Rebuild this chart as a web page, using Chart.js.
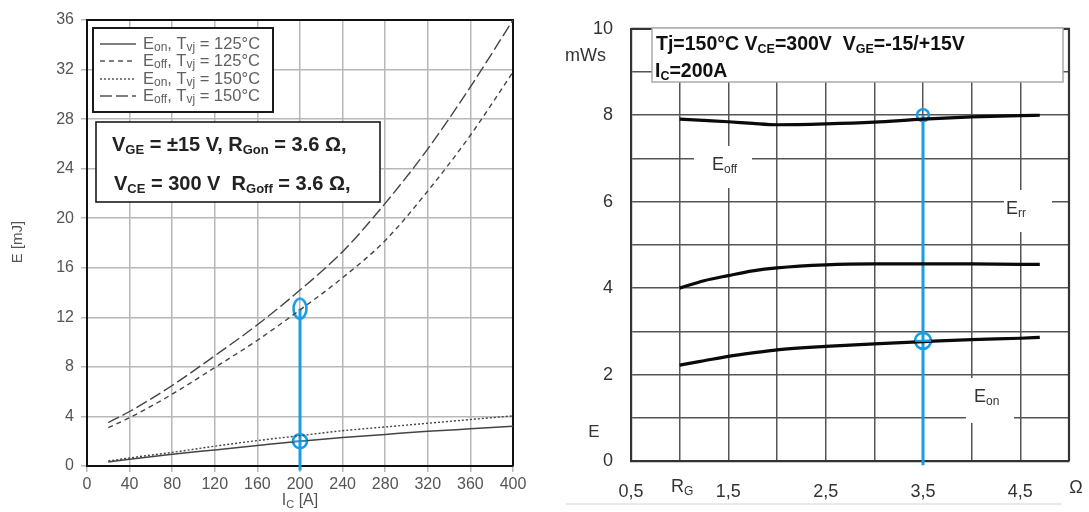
<!DOCTYPE html>
<html><head><meta charset="utf-8">
<script src="https://cdn.jsdelivr.net/npm/chart.js@4.4.0/dist/chart.umd.min.js"></script>
<style>
html,body{margin:0;padding:0;background:#fff;width:1089px;height:512px;overflow:hidden}
#c1{position:absolute;left:0;top:0}
#c2{position:absolute;left:540px;top:0}
</style></head><body>
<canvas id="c1" width="540" height="512"></canvas>
<canvas id="c2" width="549" height="512"></canvas>
<script>
// ---------- Left chart data: E vs I_C ----------
const IC        = [20, 40, 80, 120, 160, 200, 240, 280, 320, 360, 400];
const EON_125   = [0.33, 0.55, 0.95, 1.3, 1.65, 2.0, 2.3, 2.55, 2.8, 3.0, 3.2];
const EOFF_125  = [3.1, 3.9, 5.8, 7.95, 10.15, 12.6, 15.2, 18.2, 22.2, 26.7, 31.8];
const EON_150   = [0.4, 0.65, 1.1, 1.6, 2.05, 2.45, 2.85, 3.15, 3.45, 3.75, 4.05];
const EOFF_150  = [3.5, 4.4, 6.5, 8.9, 11.4, 14.2, 17.3, 21.2, 25.6, 30.6, 36.0];
const IC_TICKS  = [0, 400, 40];   // min, max, step
const EL_TICKS  = [0, 36, 4];
const MARK_L_X  = 200;
const MARK_L_Y  = [12.7, 2.0];
const LEG_L     = ['125°C', '125°C', '150°C', '150°C'];

// ---------- Right chart data: E vs R_G ----------
const RG        = [1.0, 1.25, 1.5, 1.75, 2.0, 2.5, 3.0, 3.5, 4.0, 4.5, 4.7];
const R_EOFF    = [7.91, 7.88, 7.85, 7.81, 7.78, 7.8, 7.84, 7.91, 7.96, 7.99, 8.0];
const R_ERR     = [4.0, 4.17, 4.29, 4.4, 4.47, 4.54, 4.56, 4.56, 4.56, 4.55, 4.55];
const R_EON     = [2.22, 2.32, 2.42, 2.5, 2.57, 2.65, 2.71, 2.76, 2.81, 2.84, 2.86];
const RG_TICKS  = [0.5, 5.0, 0.5];
const ER_TICKS  = [0, 10, 1];
const MARK_R_X  = 3.5;
const MARK_R_Y  = [8.0, 2.78];

const FF = '"Liberation Sans", Arial, Helvetica, sans-serif';
const BLUE = '#1a9de2';

function rich(ctx, parts, x, y, size, subSize, color, weight, align){
  ctx.save();
  ctx.fillStyle = color; ctx.textBaseline = 'middle'; ctx.textAlign = 'left';
  const f = s => `${weight} ${s}px ${FF}`;
  let w = 0;
  parts.forEach(p => { ctx.font = f(p[1] ? subSize : size); w += ctx.measureText(p[0]).width; });
  let cx = align === 'center' ? x - w/2 : (align === 'right' ? x - w : x);
  parts.forEach(p => {
    ctx.font = f(p[1] ? subSize : size);
    ctx.fillText(p[0], cx, p[1] ? y + size*0.25 : y);
    cx += ctx.measureText(p[0]).width;
  });
  ctx.restore();
  return w;
}
const pts = (xs, ys) => xs.map((x, i) => ({x, y: ys[i]}));

// ellipse marker image
const ell = document.createElement('canvas');
ell.width = 18; ell.height = 26;
(() => { const c = ell.getContext('2d'); c.strokeStyle = BLUE; c.lineWidth = 2.6;
  c.beginPath(); c.ellipse(9, 13, 6.5, 10, 0, 0, Math.PI*2); c.stroke(); })();

// ---------------- LEFT CHART ----------------
const leftPlugin = {
  id: 'leftDeco',
  beforeDatasetsDraw(chart){
    const {ctx, chartArea: a} = chart;
    ctx.save();
    ctx.strokeStyle = '#111'; ctx.lineWidth = 2;
    ctx.beginPath(); ctx.moveTo(a.left, a.top); ctx.lineTo(a.right, a.top); ctx.lineTo(a.right, a.bottom); ctx.stroke();
    ctx.restore();
  },
  afterDraw(chart){
    const {ctx} = chart;
    ctx.save();
    // legend box
    ctx.fillStyle = '#fff'; ctx.fillRect(93, 28, 180, 84);
    ctx.strokeStyle = '#1a1a1a'; ctx.lineWidth = 2; ctx.strokeRect(93, 28, 180, 84);
    const dashes = [[], [5,4], [2,2], [12,4]];
    const names = ['on', 'off', 'on', 'off'];
    const ys = [44, 61, 79, 96];
    for (let i = 0; i < 4; i++){
      ctx.strokeStyle = '#555'; ctx.lineWidth = 1.5; ctx.setLineDash(dashes[i]);
      ctx.beginPath(); ctx.moveTo(100, ys[i]); ctx.lineTo(136, ys[i]); ctx.stroke();
      ctx.setLineDash([]);
      rich(ctx, [['E',0],[names[i],1],[', T',0],['vj',1],[' = ' + LEG_L[i],0]], 143, ys[i], 16.5, 12, '#606060', 'normal', 'left');
    }
    // conditions box
    ctx.fillStyle = '#fff'; ctx.fillRect(96, 122, 284, 80);
    ctx.strokeStyle = '#1a1a1a'; ctx.lineWidth = 1.6; ctx.strokeRect(96, 122, 284, 80);
    rich(ctx, [['V',0],['GE',1],[' = ±15 V, R',0],['Gon',1],[' = 3.6 Ω,',0]], 112, 145, 20, 13, '#222', 'bold', 'left');
    rich(ctx, [['V',0],['CE',1],[' = 300 V  R',0],['Goff',1],[' = 3.6 Ω,',0]], 114, 184, 20, 13, '#222', 'bold', 'left');
    // axis titles
    rich(ctx, [['I',0],['C',1],[' [A]',0]], 300, 501, 16, 11, '#555', 'normal', 'center');
    ctx.translate(18, 242); ctx.rotate(-Math.PI/2);
    rich(ctx, [['E [mJ]',0]], 0, 0, 15, 10, '#555', 'normal', 'center');
    ctx.restore();
    // crosshair on lower marker
    const xs = chart.scales.x, yS = chart.scales.y;
    const px = xs.getPixelForValue(MARK_L_X), py = yS.getPixelForValue(MARK_L_Y[1]);
    ctx.save(); ctx.strokeStyle = BLUE; ctx.lineWidth = 1.5;
    ctx.beginPath(); ctx.moveTo(px-7, py); ctx.lineTo(px+7, py); ctx.stroke(); ctx.restore();
  }
};

const lineDs = (label, ys, dash, w) => ({
  label, data: pts(IC, ys), borderColor: '#444', borderWidth: w || 1.4,
  borderDash: dash, pointRadius: 0, tension: 0.35, cubicInterpolationMode: 'monotone', fill: false
});

new Chart(document.getElementById('c1'), {
  type: 'line',
  data: { datasets: [
    lineDs('Eon 125', EON_125, [], 1.5),
    lineDs('Eoff 125', EOFF_125, [5,4]),
    lineDs('Eon 150', EON_150, [2,2]),
    lineDs('Eoff 150', EOFF_150, [12,4]),
    { label: 'mark', data: [{x: MARK_L_X, y: -0.35}, {x: MARK_L_X, y: MARK_L_Y[0]}], borderColor: BLUE, borderWidth: 3, pointRadius: 0, clip: false },
    { label: 'circles', type: 'scatter', data: MARK_L_Y.map(y => ({x: MARK_L_X, y})), showLine: false,
      pointStyle: [ell, 'circle'], pointRadius: [9, 7], borderColor: BLUE, borderWidth: 2.6, backgroundColor: 'rgba(0,0,0,0)', clip: false }
  ]},
  options: {
    responsive: false, animation: false, devicePixelRatio: 1,
    layout: { padding: { top: 20, right: 27, left: 0, bottom: 0 } },
    plugins: { legend: { display: false }, tooltip: { enabled: false } },
    scales: {
      x: { type: 'linear', min: IC_TICKS[0], max: IC_TICKS[1],
        ticks: { stepSize: IC_TICKS[2], color: '#555', font: { family: FF, size: 16 }, padding: 3, maxRotation: 0 },
        grid: { color: '#b8b8b8', lineWidth: 1.5, tickLength: 6 },
        border: { color: '#111', width: 2 },
        afterFit(s){ s.height = 46; } },
      y: { type: 'linear', min: EL_TICKS[0], max: EL_TICKS[1],
        ticks: { stepSize: EL_TICKS[2], color: '#555', font: { family: FF, size: 16 }, padding: 7 },
        grid: { color: '#b8b8b8', lineWidth: 1.5, tickLength: 6 },
        border: { color: '#111', width: 2 },
        afterFit(s){ s.width = 87; } }
    }
  },
  plugins: [leftPlugin]
});

// ---------------- RIGHT CHART ----------------
const rightPlugin = {
  id: 'rightDeco',
  beforeDatasetsDraw(chart){
    const {ctx, chartArea: a} = chart;
    ctx.save();
    ctx.strokeStyle = '#333'; ctx.lineWidth = 2.2;
    ctx.beginPath(); ctx.moveTo(a.left, a.top); ctx.lineTo(a.right, a.top); ctx.lineTo(a.right, a.bottom); ctx.stroke();
    // inline labels with white backgrounds
    const o = -540;
    ctx.fillStyle = '#fff';
    ctx.fillRect(694+o, 146, 58, 42);
    ctx.fillRect(1004+o, 190, 48, 42);
    ctx.fillRect(966+o, 378, 48, 45);
    rich(ctx, [['E',0],['off',1]], 712+o, 165, 18, 12, '#333', 'normal', 'left');
    rich(ctx, [['E',0],['rr',1]], 1006+o, 209, 18, 12, '#333', 'normal', 'left');
    rich(ctx, [['E',0],['on',1]], 974+o, 397, 18, 12, '#333', 'normal', 'left');
    ctx.restore();
  },
  afterDraw(chart){
    const {ctx} = chart;
    const o = -540;
    ctx.save();
    // condition box
    ctx.fillStyle = '#fff'; ctx.fillRect(652+o, 28, 411, 54);
    ctx.strokeStyle = '#aaa'; ctx.lineWidth = 1.5; ctx.strokeRect(652+o, 28, 411, 54);
    rich(ctx, [['Tj=150°C V',0],['CE',1],['=300V  V',0],['GE',1],['=-15/+15V',0]], 656+o, 45, 19.5, 12.5, '#111', 'bold', 'left');
    rich(ctx, [['I',0],['C',1],['=200A',0]], 655+o, 72, 19.5, 12.5, '#111', 'bold', 'left');
    // axis labels
    rich(ctx, [['mWs',0]], 606+o, 56, 18, 12, '#333', 'normal', 'right');
    rich(ctx, [['E',0]], 594+o, 432, 17, 12, '#333', 'normal', 'center');
    rich(ctx, [['R',0],['G',1]], 671+o, 487, 18, 12, '#333', 'normal', 'left');
    rich(ctx, [['Ω',0]], 1076+o, 488, 18, 12, '#333', 'normal', 'center');
    // faint underlines
    ctx.strokeStyle = '#e2e2e2'; ctx.lineWidth = 1.5;
    ctx.beginPath(); ctx.moveTo(566+o, 504); ctx.lineTo(1062+o, 504); ctx.stroke();
    ctx.restore();
    // crosshair on lower marker
    const xs = chart.scales.x, yS = chart.scales.y;
    const px = xs.getPixelForValue(MARK_R_X), py = yS.getPixelForValue(MARK_R_Y[1]);
    ctx.save(); ctx.strokeStyle = BLUE; ctx.lineWidth = 2;
    ctx.beginPath(); ctx.moveTo(px-8, py); ctx.lineTo(px+8, py); ctx.stroke(); ctx.restore();
  }
};

const rDs = (label, ys) => ({ label, data: pts(RG, ys), borderColor: '#0a0a0a', borderWidth: 3.2,
  pointRadius: 0, tension: 0.4, cubicInterpolationMode: 'monotone', fill: false });

new Chart(document.getElementById('c2'), {
  type: 'line',
  data: { datasets: [
    rDs('Eoff', R_EOFF), rDs('Err', R_ERR), rDs('Eon', R_EON),
    { label: 'mark', data: [{x: MARK_R_X, y: -0.1}, {x: MARK_R_X, y: MARK_R_Y[0]}], borderColor: BLUE, borderWidth: 3, pointRadius: 0, clip: false },
    { label: 'circles', type: 'scatter', data: MARK_R_Y.map(y => ({x: MARK_R_X, y})), showLine: false,
      pointStyle: 'circle', pointRadius: [6, 8], borderColor: BLUE, borderWidth: 2.6, backgroundColor: 'rgba(0,0,0,0)', clip: false }
  ]},
  options: {
    responsive: false, animation: false, devicePixelRatio: 1,
    layout: { padding: { top: 16, right: 10, left: 0, bottom: 0 } },
    plugins: { legend: { display: false }, tooltip: { enabled: false } },
    scales: {
      x: { type: 'linear', min: RG_TICKS[0], max: RG_TICKS[1],
        ticks: { stepSize: RG_TICKS[2], color: '#333', font: { family: FF, size: 18 }, padding: 20, maxRotation: 0, autoSkip: false,
          callback: v => (Math.round(v*2) % 2 === 1 && v < 4.9) ? v.toFixed(1).replace('.', ',') : '' },
        grid: { color: '#555', lineWidth: 1.5, drawTicks: false },
        border: { color: '#333', width: 2.2 },
        afterFit(s){ s.height = 51; } },
      y: { type: 'linear', min: ER_TICKS[0], max: ER_TICKS[1],
        ticks: { stepSize: ER_TICKS[2], color: '#333', font: { family: FF, size: 18 }, padding: 18, autoSkip: false,
          callback: v => (Math.round(v) % 2 === 0) ? String(v) : '' },
        grid: { color: '#555', lineWidth: 1.5, drawTicks: false },
        border: { color: '#333', width: 2.2 },
        afterFit(s){ s.width = 91; } }
    }
  },
  plugins: [rightPlugin]
});
</script></body></html>
